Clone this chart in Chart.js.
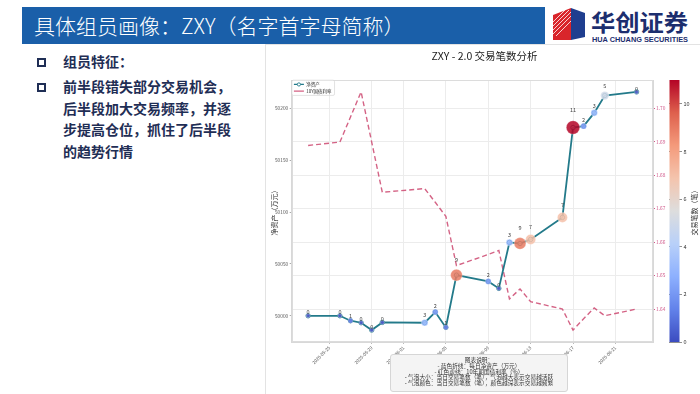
<!DOCTYPE html>
<html><head><meta charset="utf-8">
<script src="https://cdn.jsdelivr.net/npm/chart.js@4.4.1/dist/chart.umd.min.js"></script>
<style>
html,body{margin:0;padding:0;}
body{width:700px;height:394px;position:relative;overflow:hidden;background:#fff;font-family:'Noto Sans CJK SC','Noto Sans',sans-serif;}
#bar{position:absolute;left:22px;top:7px;width:523px;height:37px;background:#1a5fa9;}
#ttl{position:absolute;left:34px;top:7px;height:37px;line-height:37px;color:#fff;font-size:21px;font-weight:300;white-space:nowrap;}
.sq{position:absolute;left:37px;width:5px;height:5px;border:2px solid #1f2e55;}
.tx{position:absolute;left:63px;color:#1f2e55;font-size:14px;font-weight:700;white-space:nowrap;}
#frame{position:absolute;left:265px;top:44px;width:435px;height:350px;box-sizing:border-box;border-left:1px solid #e3e3e3;border-top:1px solid #e3e3e3;}
#c{position:absolute;left:265px;top:44px;}
#cap{position:absolute;left:390px;top:354px;width:356px;height:76px;box-sizing:border-box;background:#f4f4f4;border:2px solid #d6d6d6;border-radius:6px;text-align:center;font-size:11.4px;color:#333;padding-top:3px;transform:scale(0.5);transform-origin:0 0;white-space:nowrap;}
#cap div{height:11.8px;line-height:11.8px;}
</style></head>
<body>
<div id="bar"></div>
<div id="ttl">具体组员画像：ZXY（名字首字母简称）</div>
<svg style="position:absolute;left:0;top:0" width="700" height="50">
  <polygon points="553,15 571,8 571,40 553,40" fill="#d9252b"/>
  <g stroke="#fff" stroke-width="0.8">
    <line x1="553" y1="22" x2="566" y2="9"/><line x1="553" y1="26" x2="569" y2="10"/>
    <line x1="553" y1="30" x2="571" y2="12"/><line x1="553" y1="34" x2="571" y2="16"/>
    <line x1="556" y1="36" x2="571" y2="21"/>
  </g>
  <polygon points="571,8 585,13 585,37 571,40" fill="#1f3e8f"/>
  <text x="591" y="31" font-family="Noto Sans CJK SC" font-weight="700" font-size="23" fill="#1c2e6e" textLength="97" lengthAdjust="spacingAndGlyphs">华创证券</text>
  <text x="592" y="42" font-family="Liberation Sans" font-weight="700" font-size="6.3" fill="#1c2e6e" textLength="96" lengthAdjust="spacingAndGlyphs">HUA CHUANG SECURITIES</text>
</svg>
<div class="sq" style="top:57.5px"></div>
<div class="tx" style="top:51px;line-height:21.7px">组员特征：</div>
<div class="sq" style="top:82.5px"></div>
<div class="tx" style="top:75.8px;line-height:21.7px">前半段错失部分交易机会，<br>后半段加大交易频率，并逐<br>步提高仓位，抓住了后半段<br>的趋势行情</div>
<div id="frame"></div>
<canvas id="c" width="435" height="350"></canvas>
<div id="cap"><div>图表说明：</div><div>- 蓝色折线：每日净资产（万元）</div><div>- 红色虚线：10年期国债利率（%）</div><div>- 气泡大小：当日交易笔数（笔），气泡越大表示交易越活跃</div><div>- 气泡颜色：当日交易笔数（笔），颜色越深表示交易越频繁</div></div>
<script>
const dates = ['2025-05-23','2025-05-26','2025-05-27','2025-05-28','2025-05-29','2025-05-30','2025-06-03','2025-06-04','2025-06-05','2025-06-06','2025-06-09','2025-06-10','2025-06-11','2025-06-12','2025-06-13','2025-06-16','2025-06-17','2025-06-18','2025-06-19','2025-06-20','2025-06-23'];
const netAsset = [50000.0,50000.0,49995.2,49993.3,49986.2,49993.6,49993.3,50003.6,49988.8,50039.2,50033.1,50026.4,50070.7,50069.7,50073.6,50094.8,50181.5,50182.8,50195.6,50212.3,50215.8];
const bondYield = [1.6889,1.6899,1.6974,1.7049,1.6899,1.6749,1.6760,1.6719,1.6677,1.6530,1.6563,1.6575,1.6430,1.6460,1.6422,1.6400,1.6337,1.6371,1.6403,1.6380,1.6400];
const tradeCounts = [0,0,1,0,0,0,3,2,1,9,2,0,3,9,7,7,11,2,3,5,0];
const xTickLabels = ['2025-05-25','2025-05-29','2025-06-01','2025-06-05','2025-06-09','2025-06-13','2025-06-17','2025-06-21'];
const seriesNames = ['净资产','10Y国债利率'];
const chartTitle = 'ZXY - 2.0 交易笔数分析';
const yTitle = '净资产（万元）';
const cbTitle = '交易笔数（笔）';

const FONT = "'Noto Sans CJK SC','Noto Sans',sans-serif";
const t0 = Date.parse(dates[0]);
const dayOf = s => (Date.parse(s) - t0) / 86400000;
const xs = dates.map(dayOf);
const maxCount = Math.max(...tradeCounts);

const CW = [[0,59,76,192],[0.125,98,130,234],[0.25,141,176,254],[0.375,184,208,249],[0.5,221,221,221],[0.625,244,196,173],[0.75,244,154,123],[0.875,222,96,77],[1,180,4,38]];
function coolwarm(t, a) {
  t = Math.max(0, Math.min(1, t));
  for (let i = 1; i < CW.length; i++) {
    if (t <= CW[i][0]) {
      const p = CW[i-1], q = CW[i], f = (t - p[0]) / (q[0] - p[0]);
      const c = [1,2,3].map(k => Math.round(p[k] + (q[k]-p[k]) * f));
      return `rgba(${c[0]},${c[1]},${c[2]},${a})`;
    }
  }
  return `rgba(180,4,38,${a})`;
}
function pad(arr, m) { const lo = Math.min(...arr), hi = Math.max(...arr), r = hi - lo; return [lo - r*m, hi + r*m]; }
const [xMin, xMax] = pad(xs, 0.05);
const [yMin, yMax] = pad(netAsset, 0.05);
const [y1Min, y1Max] = pad(bondYield, 0.05);

const netPts = xs.map((x,i) => ({x, y: netAsset[i]}));
const yldPts = xs.map((x,i) => ({x, y: bondYield[i]}));
const TEAL = '#237a8a', PINK = 'rgba(204,72,112,0.85)', PINKTXT = '#d0588a';
const radiusOf = c => 2 + 0.43 * c;

const decor = {
  id: 'decor',
  afterLayout(chart) {
    const lg = chart.legend, a = chart.chartArea;
    if (lg) { lg.top = a.top; lg.bottom = a.bottom; lg.left = a.left; lg.right = a.right; lg.height = a.bottom - a.top; }
  },
  beforeDatasetsDraw(chart) {
    const {ctx, chartArea: a} = chart;
    ctx.save();
    ctx.strokeStyle = '#dcdcdc'; ctx.lineWidth = 1;
    ctx.strokeRect(Math.round(a.left)+0.5, Math.round(a.top)+0.5, Math.round(a.width)-1, Math.round(a.height)-1);
    const lg = chart.legend, hb = lg && lg.legendHitBoxes;
    if (hb && hb.length) {
      const l = Math.min(...hb.map(h=>h.left)) - 2, t = Math.min(...hb.map(h=>h.top)) - 2;
      const r = Math.max(...hb.map(h=>h.left+h.width)) + 3, b = Math.max(...hb.map(h=>h.top+h.height)) + 2;
      ctx.fillStyle = 'rgba(255,255,255,0.95)'; ctx.strokeStyle = '#cfcfcf'; ctx.lineWidth = 0.6;
      ctx.beginPath(); ctx.roundRect(l, t, r-l, b-t, 1.5); ctx.fill(); ctx.stroke();
      ctx.restore(); ctx.save();
      lg.draw();
      const h0 = hb[0];
      ctx.beginPath(); ctx.arc(h0.left + 5, h0.top + 2.25, 1.6, 0, Math.PI*2);
      ctx.fillStyle = '#fff'; ctx.fill(); ctx.strokeStyle = TEAL; ctx.lineWidth = 0.9; ctx.stroke();
    }
    ctx.restore();
  },
  afterDatasetsDraw(chart) {
    const {ctx} = chart;
    const meta = chart.getDatasetMeta(2);
    ctx.save();
    ctx.font = `5.5px ${FONT}`; ctx.fillStyle = '#444'; ctx.textAlign = 'center'; ctx.textBaseline = 'middle';
    meta.data.forEach((el, i) => {
      const c = tradeCounts[i];
      ctx.fillText(String(c), el.x, el.y - (3.5 + 1.3*c));
    });
    ctx.restore();
  },
  afterDraw(chart) {
    const {ctx} = chart; const yc = chart.scales.yc;
    const top = yc.getPixelForValue(yc.max), bot = yc.getPixelForValue(yc.min);
    const x0 = yc.left + 0.5, w = 10;
    const g = ctx.createLinearGradient(0, bot, 0, top);
    CW.forEach(s => g.addColorStop(s[0], `rgb(${s[1]},${s[2]},${s[3]})`));
    ctx.save();
    ctx.fillStyle = g; ctx.fillRect(x0, top, w, bot - top);
    ctx.translate(yc.right - 6, (top + bot) / 2); ctx.rotate(-Math.PI/2);
    ctx.font = `7px ${FONT}`; ctx.fillStyle = '#333'; ctx.textAlign = 'center'; ctx.textBaseline = 'middle';
    ctx.fillText(cbTitle, 0, 0);
    ctx.restore();
  }
};

const defaultGen = Chart.defaults.plugins.legend.labels.generateLabels;
new Chart(document.getElementById('c'), {
  type: 'line',
  data: {
    datasets: [
      { label: seriesNames[0], type: 'line', data: netPts, yAxisID: 'y', borderColor: TEAL, borderWidth: 1.8,
        pointStyle: 'circle', pointRadius: 2.2, pointBorderWidth: 0.9, pointBorderColor: TEAL, pointBackgroundColor: 'rgba(255,255,255,0.6)', order: 2 },
      { label: seriesNames[1], type: 'line', data: yldPts, yAxisID: 'y1', borderColor: PINK, borderWidth: 1.4, borderDash: [5,3],
        pointRadius: 0, order: 3 },
      { label: 'bubbles', type: 'scatter', data: netPts, yAxisID: 'y', order: 1,
        pointRadius: c => radiusOf(tradeCounts[c.dataIndex]),
        pointBackgroundColor: c => coolwarm(tradeCounts[c.dataIndex] / maxCount, 0.85),
        pointBorderColor: 'rgba(255,255,255,0.5)', pointBorderWidth: 0.5 }
    ]
  },
  options: {
    responsive: false, devicePixelRatio: 1, animation: false, events: [],
    layout: { padding: { left: 4, right: 0, top: 0, bottom: 0 } },
    plugins: {
      tooltip: { enabled: false },
      title: { display: true, text: chartTitle, color: '#222', font: { family: FONT, size: 10.5, weight: 'normal' }, padding: { top: 6, bottom: 17.4 } },
      legend: {
        position: 'chartArea', align: 'start',
        labels: {
          usePointStyle: true, pointStyleWidth: 10, padding: 2.2, color: '#333', font: { family: FONT, size: 4.5 },
          generateLabels: ch => defaultGen(ch).filter(it => it.datasetIndex !== 2).map(it => Object.assign(it, { pointStyle: 'line', lineWidth: 1.2 }))
        }
      }
    },
    scales: {
      x: {
        type: 'linear', min: xMin, max: xMax,
        afterBuildTicks: s => { s.ticks = xTickLabels.map(l => ({ value: dayOf(l) })); },
        afterFit: s => { s.height = 52; },
        ticks: { autoSkip: false, maxRotation: 45, minRotation: 45, includeBounds: false, padding: 1,
          color: '#555', font: { family: FONT, size: 4.5 }, callback: (v, i) => xTickLabels[i] },
        grid: { color: '#ececec', tickLength: 2, tickColor: '#bbb' },
        border: { color: '#d8d8d8' }
      },
      y: {
        type: 'linear', position: 'left', min: yMin, max: yMax,
        afterFit: s => { s.width = 22.7; },
        ticks: { stepSize: 50, includeBounds: false, padding: 1.5, color: '#555', font: { family: FONT, size: 4.8 }, callback: v => String(v) },
        grid: { drawOnChartArea: false, tickLength: 2, tickColor: '#aaa' },
        border: { color: '#d8d8d8' },
        title: { display: true, text: yTitle, color: '#333', font: { family: FONT, size: 7 }, padding: { top: 1, bottom: 1 } }
      },
      y1: {
        type: 'linear', position: 'right', min: y1Min, max: y1Max, weight: 0,
        afterFit: s => { s.width = 16; },
        ticks: { stepSize: 0.01, includeBounds: false, padding: 1, color: PINKTXT, font: { family: FONT, size: 4.8 }, callback: v => v.toFixed(2) },
        grid: { color: '#ececec', tickLength: 2, tickColor: PINKTXT },
        border: { color: '#d8d8d8' }
      },
      yc: {
        type: 'linear', position: 'right', min: 0, max: maxCount, weight: 1,
        afterFit: s => { s.width = 31; },
        ticks: { stepSize: 2, includeBounds: false, padding: 1.5, color: '#333', font: { family: FONT, size: 5.5 } },
        grid: { drawOnChartArea: false, tickLength: 13, tickColor: '#444', lineWidth: 0.6 },
        border: { display: false }
      }
    }
  },
  plugins: [decor]
});
</script>
</body></html>
